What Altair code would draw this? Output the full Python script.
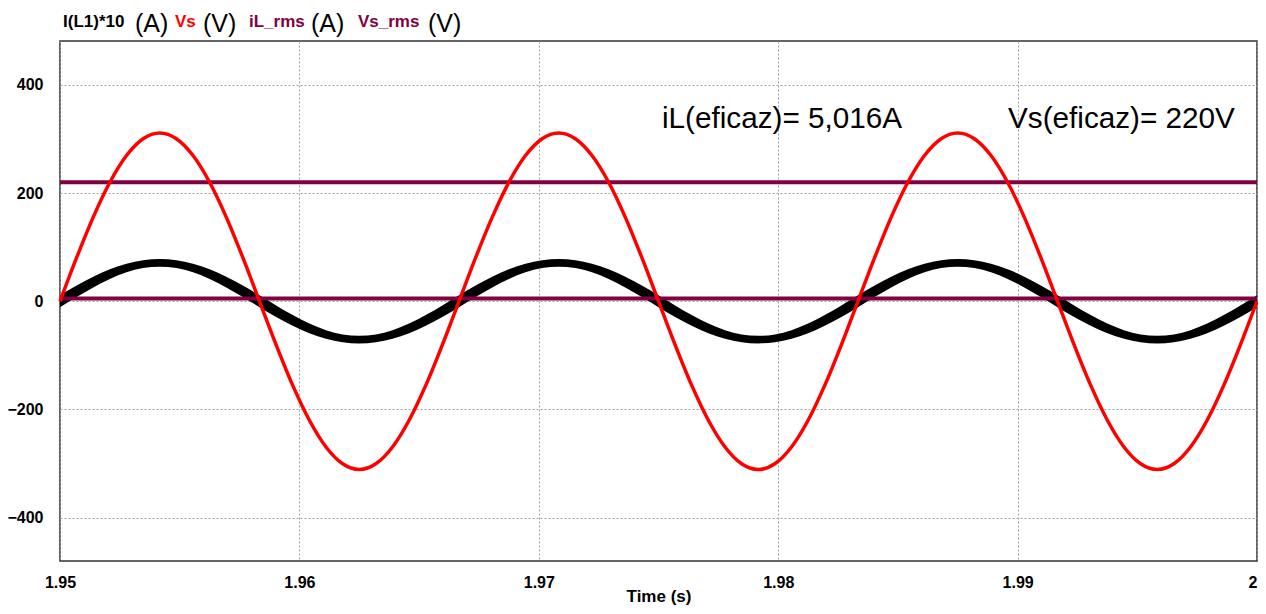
import altair as alt
import pandas as pd

# time offsets from 1.95 s, in milliseconds (sampled every 1/24 of a 60 Hz period)
t_ms = [
    0.000, 0.694, 1.389, 2.083, 2.778, 3.472, 4.167, 4.861, 5.556, 6.250, 6.944, 7.639,
    8.333, 9.028, 9.722, 10.417, 11.111, 11.806, 12.500, 13.194, 13.889, 14.583, 15.278, 15.972,
    16.667, 17.361, 18.056, 18.750, 19.444, 20.139, 20.833, 21.528, 22.222, 22.917, 23.611, 24.306,
    25.000, 25.694, 26.389, 27.083, 27.778, 28.472, 29.167, 29.861, 30.556, 31.250, 31.944, 32.639,
    33.333, 34.028, 34.722, 35.417, 36.111, 36.806, 37.500, 38.194, 38.889, 39.583, 40.278, 40.972,
    41.667, 42.361, 43.056, 43.750, 44.444, 45.139, 45.833, 46.528, 47.222, 47.917, 48.611, 49.306,
    50.000,
]

# Vs (V)
vs = [
    0, 80.5, 155.5, 219.9, 269.3, 300.4, 311.0, 300.4, 269.3, 219.9, 155.5, 80.5,
    0, -80.5, -155.5, -219.9, -269.3, -300.4, -311.0, -300.4, -269.3, -219.9, -155.5, -80.5,
    0, 80.5, 155.5, 219.9, 269.3, 300.4, 311.0, 300.4, 269.3, 219.9, 155.5, 80.5,
    0, -80.5, -155.5, -219.9, -269.3, -300.4, -311.0, -300.4, -269.3, -219.9, -155.5, -80.5,
    0, 80.5, 155.5, 219.9, 269.3, 300.4, 311.0, 300.4, 269.3, 219.9, 155.5, 80.5,
    0, -80.5, -155.5, -219.9, -269.3, -300.4, -311.0, -300.4, -269.3, -219.9, -155.5, -80.5,
    0,
]

# I(L1)*10 (A), centre of the rippled band
il10 = [
    0, 18.4, 35.5, 50.2, 61.4, 68.5, 70.9, 68.5, 61.4, 50.2, 35.5, 18.4,
    0, -18.4, -35.5, -50.2, -61.4, -68.5, -70.9, -68.5, -61.4, -50.2, -35.5, -18.4,
    0, 18.4, 35.5, 50.2, 61.4, 68.5, 70.9, 68.5, 61.4, 50.2, 35.5, 18.4,
    0, -18.4, -35.5, -50.2, -61.4, -68.5, -70.9, -68.5, -61.4, -50.2, -35.5, -18.4,
    0, 18.4, 35.5, 50.2, 61.4, 68.5, 70.9, 68.5, 61.4, 50.2, 35.5, 18.4,
    0, -18.4, -35.5, -50.2, -61.4, -68.5, -70.9, -68.5, -61.4, -50.2, -35.5, -18.4,
    0,
]

# half-height of the switching ripple band (A*10)
ripple = [
    11, 10.6, 9.9, 8.9, 7.9, 7.2, 7.0, 7.2, 7.9, 8.9, 9.9, 10.6,
    11, 10.6, 9.9, 8.9, 7.9, 7.2, 7.0, 7.2, 7.9, 8.9, 9.9, 10.6,
    11, 10.6, 9.9, 8.9, 7.9, 7.2, 7.0, 7.2, 7.9, 8.9, 9.9, 10.6,
    11, 10.6, 9.9, 8.9, 7.9, 7.2, 7.0, 7.2, 7.9, 8.9, 9.9, 10.6,
    11, 10.6, 9.9, 8.9, 7.9, 7.2, 7.0, 7.2, 7.9, 8.9, 9.9, 10.6,
    11, 10.6, 9.9, 8.9, 7.9, 7.2, 7.0, 7.2, 7.9, 8.9, 9.9, 10.6,
    11,
]

rms_values = [5.016, 220]  # iL_rms (A), Vs_rms (V)
x_ticks = [1.95, 1.96, 1.97, 1.98, 1.99, 2.0]
y_ticks = [-400, -200, 0, 200, 400]

FONT = "Liberation Sans"
RED = "#FF0000"
MAROON = "#800040"

df = pd.DataFrame({
    "t": [1.95 + m / 1000 for m in t_ms],
    "vs": vs,
    "lo": [a - r for a, r in zip(il10, ripple)],
    "hi": [a + r for a, r in zip(il10, ripple)],
})

xscale = alt.Scale(domain=[1.95, 2.0], nice=False, zero=False)
yscale = alt.Scale(domain=[-480, 481], nice=False, zero=False)

xaxis = alt.Axis(
    values=x_ticks, format="~g", title="Time (s)", labelFlush=False,
    labelAlign=alt.expr("datum.value >= 2 ? 'right' : 'center'"),
    labelPadding=13, titleBaseline="alphabetic", titleY=40,
    titleFontSize=17, titleFont=FONT, titleFontWeight="bold", titleColor="black",
)
yaxis = alt.Axis(values=y_ticks, title=None, labelPadding=17)

band = alt.Chart(df).mark_area(color="black", interpolate="monotone").encode(
    x=alt.X("t:Q", scale=xscale, axis=xaxis),
    y=alt.Y("lo:Q", scale=yscale, axis=yaxis),
    y2="hi:Q",
)

rules = alt.Chart(pd.DataFrame({"v": rms_values})).mark_rule(
    color=MAROON, strokeWidth=4
).encode(y=alt.Y("v:Q", title=None))

vs_line = alt.Chart(df).mark_line(
    color=RED, strokeWidth=3.5, interpolate="monotone"
).encode(x=alt.X("t:Q", title="Time (s)"), y=alt.Y("vs:Q", title=None))


def label(text, x, y, size, color="black", weight="normal"):
    return alt.Chart(pd.DataFrame({"s": [text]})).mark_text(
        align="left", baseline="alphabetic", font=FONT, fontSize=size,
        fontWeight=weight, color=color,
    ).encode(text="s:N", x=alt.value(x), y=alt.value(y))


texts = [
    label("I(L1)*10", 3, -14, 17, "black", "bold"),
    label("(A)", 75, -9, 25),
    label("Vs", 115, -14, 17, RED, "bold"),
    label("(V)", 143, -9, 25),
    label("iL_rms", 189, -14, 17, MAROON, "bold"),
    label("(A)", 251, -9, 25),
    label("Vs_rms", 298, -14, 17, MAROON, "bold"),
    label("(V)", 368, -9, 25),
    label("iL(eficaz)= 5,016A", 602, 87, 29.7),
    label("Vs(eficaz)= 220V", 948, 87, 29.7),
]

chart = alt.layer(band, rules, vs_line, *texts).properties(
    width=1197, height=520,
    autosize=alt.AutoSizeParams(type="none"),
    padding={"left": 52, "top": 33, "right": 1, "bottom": 45},
).configure_view(
    stroke="#333333", strokeWidth=1.5
).configure_axis(
    grid=True, gridColor="#a0a0a0", gridDash=[2, 2], gridWidth=1,
    domain=False, ticks=False, tickSize=0,
    labelFont=FONT, labelFontSize=16, labelFontWeight="bold", labelColor="black",
)

chart.save("out.html", embed_options={"renderer": "svg", "actions": False})
